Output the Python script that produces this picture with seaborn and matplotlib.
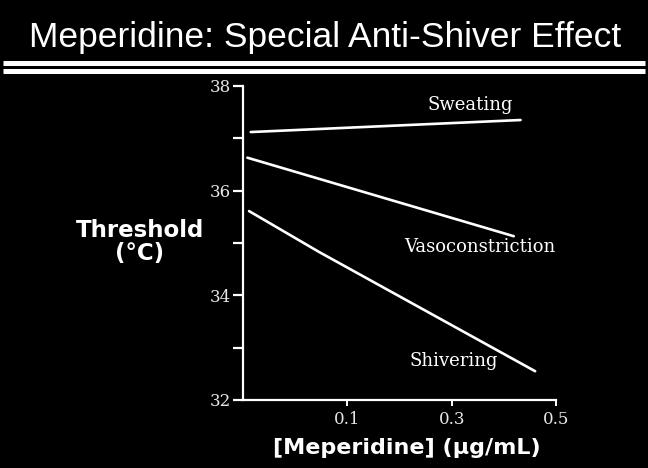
import numpy as np
import pandas as pd
import matplotlib
matplotlib.use("Agg")
import matplotlib.pyplot as plt
from matplotlib.lines import Line2D
import seaborn as sns

# threshold lines, concentration in ug/mL
sweat_conc = [0.0074, 0.432]
sweat_temp = [37.12, 37.35]
vaso_conc = [0.0042, 0.419]
vaso_temp = [36.63, 35.13]
shiver_conc = [0.0058, 0.0728, 0.46]
shiver_temp = [35.61, 34.83, 32.55]

responses = ["Sweating", "Vasoconstriction", "Shivering"]
label_conc = [0.336, 0.354, 0.304]
label_temp = [37.64, 34.92, 32.74]

x_ticks = [0.1, 0.3, 0.5]
x_ticklabels = ["0.1", "0.3", "0.5"]
y_major = [32, 34, 36, 38]
y_minor = [33, 35, 37]

df = pd.concat([
    pd.DataFrame({"conc": sweat_conc, "temp": sweat_temp, "response": "Sweating"}),
    pd.DataFrame({"conc": vaso_conc, "temp": vaso_temp, "response": "Vasoconstriction"}),
    pd.DataFrame({"conc": shiver_conc, "temp": shiver_temp, "response": "Shivering"}),
])

# the slide's x axis is not linear: 0, 0.1, 0.3, 0.5 are evenly spaced
_breaks = [0, 0.1, 0.3, 0.5]
_pos = [0, 1, 2, 3]
def fwd(x):
    return np.interp(x, _breaks, _pos)
def inv(p):
    return np.interp(p, _pos, _breaks)

sns.set_style("dark", {"axes.facecolor": "black", "figure.facecolor": "black"})
plt.rcParams["text.color"] = "white"

fig = plt.figure(figsize=(6.48, 4.68), dpi=100)
fig.patch.set_facecolor("black")
ax = fig.add_axes([243 / 648, 1 - 400 / 468, 313 / 648, 314 / 468])
ax.set_facecolor("black")
ax.set_xscale("function", functions=(fwd, inv))

sns.lineplot(data=df, x="conc", y="temp", hue="response", palette=["white"] * 3,
             estimator=None, sort=False, legend=False, linewidth=1.9, ax=ax)

ax.set_xlim(0, 0.5)
ax.set_ylim(32, 38)
ax.set_xticks(x_ticks)
ax.set_xticklabels(x_ticklabels)
ax.set_yticks(y_major)
ax.set_yticks(y_minor, minor=True)
ax.set_xticks([], minor=True)
ax.grid(False)

for s in ["top", "right"]:
    ax.spines[s].set_visible(False)
for s in ["left", "bottom"]:
    ax.spines[s].set_visible(True)
    ax.spines[s].set_color("white")
    ax.spines[s].set_linewidth(1.6)

ax.tick_params(axis="y", which="both", direction="out", length=7.5, width=1.6,
               color="white", left=True, pad=1)
ax.tick_params(axis="x", which="major", direction="out", length=4, width=1.4,
               color="white", bottom=True, pad=4)
for lab in ax.get_xticklabels() + ax.get_yticklabels():
    lab.set_fontfamily("DejaVu Serif")
    lab.set_fontsize(12)
    lab.set_color("#e8e8e8")
ax.set_xlabel("")
ax.set_ylabel("")

for name, lx, ly in zip(responses, label_conc, label_temp):
    ax.text(lx, ly, name, ha="center", va="center", color="white",
            fontsize=13, family="DejaVu Serif")

fig.text(325 / 648, 1 - 46.7 / 468, "Meperidine: Special Anti-Shiver Effect",
         ha="center", va="baseline", fontsize=25.5, family="Liberation Sans",
         color="white")
for yy in [62.5, 70.5]:
    fig.add_artist(Line2D([3 / 648, 645 / 648], [1 - yy / 468] * 2,
                          transform=fig.transFigure, color="white",
                          linewidth=3.6, solid_capstyle="butt"))

fig.text(140 / 648, 1 - 242 / 468, "Threshold\n(°C)", ha="center", va="center",
         multialignment="center", fontsize=16.5, fontweight="bold",
         family="DejaVu Sans", linespacing=1.0, color="white")
fig.text(407 / 648, 1 - 448 / 468, "[Meperidine] (μg/mL)", ha="center",
         va="center", fontsize=16, fontweight="bold", family="DejaVu Sans",
         color="white")

fig.savefig("out.png", dpi=100, facecolor="black")
